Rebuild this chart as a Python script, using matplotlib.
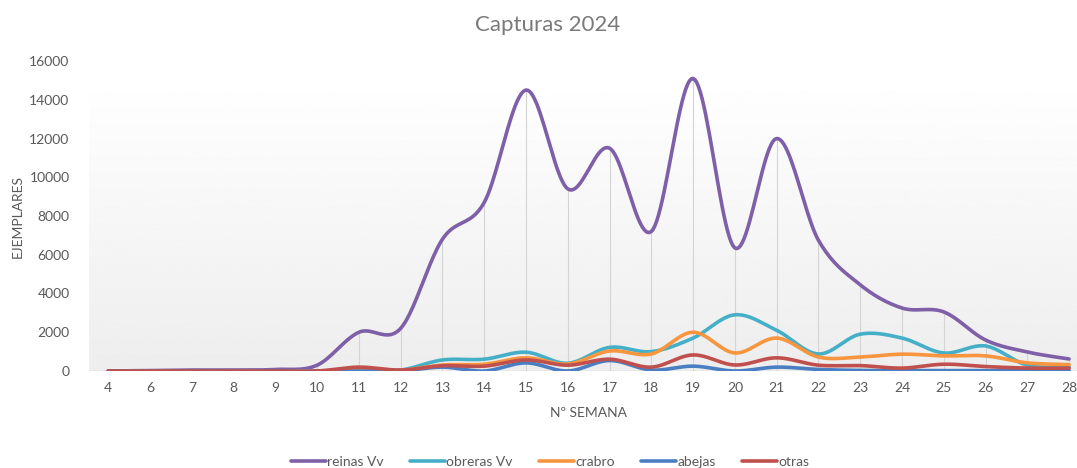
import numpy as np
import matplotlib
matplotlib.use("Agg")
import matplotlib.pyplot as plt

plt.rcParams['font.family'] = ['Lato', 'DejaVu Sans']

# semanas (falta la 5)
semanas = ['4', '6', '7', '8', '9', '10', '11', '12', '13', '14', '15', '16',
           '17', '18', '19', '20', '21', '22', '23', '24', '25', '26', '27', '28']

reinas = [0, 20, 50, 50, 80, 300, 2000, 2200, 6800, 8700, 14500, 9400,
          11500, 7200, 15100, 6350, 12000, 6750, 4450, 3250, 3050, 1600, 980, 620]
obreras = [0, 0, 0, 0, 0, 0, 50, 50, 570, 610, 970, 400,
           1220, 1000, 1700, 2900, 2100, 880, 1900, 1700, 930, 1290, 300, 200]
crabro = [0, 0, 0, 0, 0, 0, 50, 30, 310, 350, 680, 360,
          1030, 880, 2000, 930, 1700, 720, 720, 870, 780, 780, 420, 330]
abejas = [0, 0, 0, 0, 0, 0, 0, 0, 200, 0, 420, 0,
          540, 50, 250, 0, 200, 80, 30, 20, 20, 20, 20, 20]
otras = [0, 0, 0, 0, 0, 0, 200, 50, 270, 250, 570, 300,
         610, 200, 830, 310, 680, 300, 280, 150, 350, 230, 150, 150]

series = [('reinas Vv', reinas, '#7f5fa8'),
          ('obreras Vv', obreras, '#46afc8'),
          ('crabro', crabro, '#f7963f'),
          ('abejas', abejas, '#4a7ec2'),
          ('otras', otras, '#c0504d')]


def smooth(x, y, n=24):
    # curva tipo "linea suavizada" de Excel (bezier catmull-rom)
    p = np.column_stack([x, y]).astype(float)
    xs, ys = [], []
    t = np.linspace(0, 1, n)[:, None]
    for i in range(len(p) - 1):
        p0 = p[i - 1] if i > 0 else p[i]
        p1, p2 = p[i], p[i + 1]
        p3 = p[i + 2] if i + 2 < len(p) else p[i + 1]
        c1 = p1 + (p2 - p0) / 6
        c2 = p2 - (p3 - p1) / 6
        b = ((1 - t) ** 3) * p1 + 3 * ((1 - t) ** 2) * t * c1 + 3 * (1 - t) * t ** 2 * c2 + t ** 3 * p2
        xs.extend(b[:, 0]); ys.extend(b[:, 1])
    return np.array(xs), np.array(ys)


W, H = 1077, 468
fig = plt.figure(figsize=(W / 100, H / 100), dpi=100)
left, right, top, bottom = 89, 1077, 61, 371
ax = fig.add_axes([left / W, 1 - bottom / H, (right - left) / W, (bottom - top) / H])

x = np.arange(len(semanas))
xmax = (right - 110) / 41.7

# fondo degradado
grad = np.linspace(0.93, 1.0, 256)[:, None]
ax.imshow(grad, extent=[-0.46, 30, 0, 15300], aspect='auto', cmap='gray',
          vmin=0, vmax=1, zorder=0, origin='lower')
ax.set_xlim(-0.46, xmax)
ax.set_ylim(0, 16000)

# lineas de proyeccion
tops = np.max(np.array([s[1] for s in series]), axis=0)
ax.vlines(x, 0, tops, color='#d4d4d4', lw=0.8, zorder=1)

for name, vals, col in series:
    sx, sy = smooth(x, vals)
    ax.plot(sx, sy, color=col, lw=2.6, label=name, zorder=3, solid_capstyle='round')

ax.axhline(0, color='#d0d0d0', lw=1, zorder=2)

ax.set_xticks(x)
ax.set_xticklabels(semanas)
ax.set_yticks(np.arange(0, 16001, 2000))
ax.tick_params(length=0, labelsize=10, colors='#595959', pad=8)
ax.tick_params(axis='y', pad=14)
for s in ax.spines.values():
    s.set_visible(False)

fig.text(548 / W, 1 - 25 / H, 'Capturas 2024', ha='center', va='center',
         fontsize=16, color='#7a7a7a')
fig.text(18 / W, 1 - 216 / H, 'EJEMPLARES', ha='center', va='center',
         rotation=90, fontsize=10, color='#595959')
fig.text(588 / W, 1 - 413 / H, 'Nº SEMANA', ha='center', va='center',
         fontsize=10, color='#595959')

fig.legend(loc='center', bbox_to_anchor=(550 / W, 1 - 462 / H), ncol=5,
           frameon=False, fontsize=10, handlelength=2.5, handletextpad=0.1,
           columnspacing=1.9, labelcolor='#595959')

fig.savefig('out.png', dpi=100)
